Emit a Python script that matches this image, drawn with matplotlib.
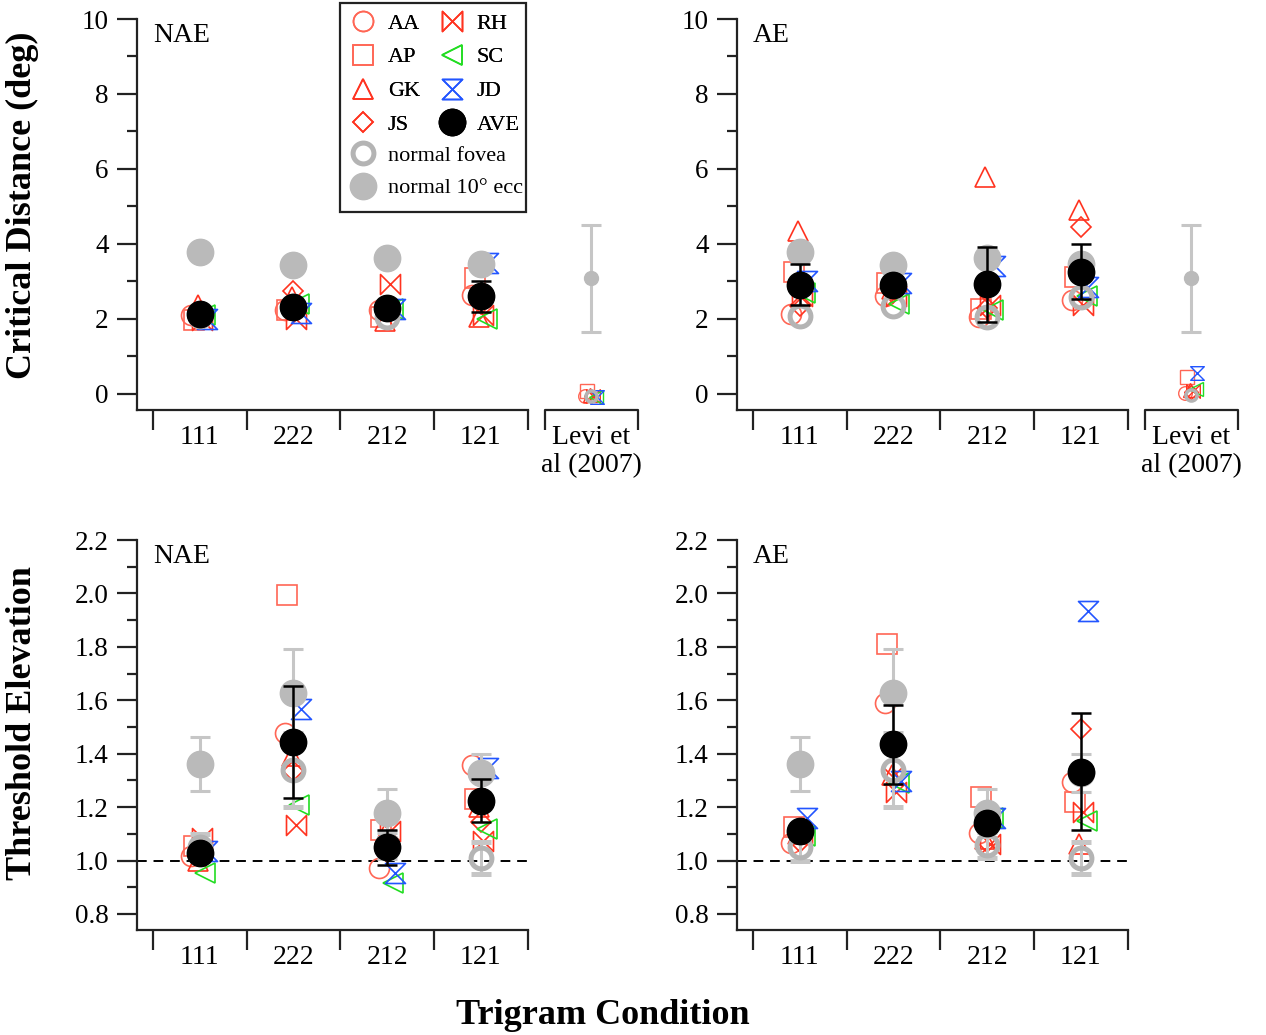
import numpy as np
import matplotlib
matplotlib.use("Agg")
import matplotlib.pyplot as plt
from matplotlib.path import Path
from matplotlib.lines import Line2D
from matplotlib.patches import Rectangle
from matplotlib.ticker import MultipleLocator, FormatStrFormatter

plt.rcParams['font.family'] = ['Liberation Serif', 'DejaVu Serif']

conditions = ['111', '222', '212', '121']
levi_label = 'Levi et\nal (2007)'
subjects = ['AA', 'AP', 'GK', 'JS', 'RH', 'SC', 'JD']

# critical distance (deg), rows follow `subjects`
cd_nae = [[2.11, 2.24, 2.25, 2.64],
          [1.97, 2.24, 2.05, 3.09],
          [2.38, 2.58, 1.95, 2.05],
          [2.12, 2.75, 2.30, 2.40],
          [1.98, 2.00, 2.92, 2.10],
          [2.10, 2.41, 2.27, 2.00],
          [2.00, 2.15, 2.27, 3.48]]
cd_ae = [[2.13, 2.60, 2.06, 2.51],
         [3.24, 2.95, 2.27, 3.11],
         [4.34, 2.80, 5.79, 4.90],
         [2.35, 2.70, 2.30, 4.45],
         [2.60, 2.60, 2.36, 2.37],
         [2.70, 2.40, 2.24, 2.60],
         [3.01, 2.95, 3.40, 2.85]]
cd_ave_nae = [2.13, 2.33, 2.28, 2.60]
cd_ave_nae_err = [0.12, 0.15, 0.15, 0.42]
cd_ave_ae = [2.91, 2.91, 2.92, 3.26]
cd_ave_ae_err = [0.55, 0.20, 0.99, 0.74]
cd_fovea = [2.09, 2.35, 2.06, 2.58]
cd_ecc = [3.79, 3.43, 3.62, 3.47]

# Levi et al (2007) column
levi_nae = [-0.05, 0.07, -0.04, -0.05, -0.05, -0.08, -0.07]
levi_ae = [0.02, 0.45, 0.10, 0.05, 0.08, 0.12, 0.57]
levi_fovea_nae = -0.05
levi_fovea_ae = -0.04
levi_ecc = 3.08
levi_ecc_err = 1.43

# threshold elevation
te_nae = [[1.017, 1.476, 0.971, 1.358],
          [1.054, 1.994, 1.114, 1.229],
          [1.000, 1.390, 1.100, 1.200],
          [1.030, 1.336, 1.050, 1.145],
          [1.083, 1.132, 1.110, 1.074],
          [0.952, 1.208, 0.915, 1.117],
          [1.034, 1.567, 0.955, 1.348]]
te_ae = [[1.064, 1.591, 1.104, 1.294],
         [1.124, 1.809, 1.239, 1.218],
         [1.100, 1.320, 1.080, 1.062],
         [1.070, 1.350, 1.070, 1.492],
         [1.100, 1.255, 1.062, 1.181],
         [1.092, 1.289, 1.158, 1.149],
         [1.159, 1.299, 1.158, 1.935]]
te_ave_nae = [1.027, 1.445, 1.049, 1.224]
te_ave_nae_err = [0.03, 0.21, 0.066, 0.08]
te_ave_ae = [1.112, 1.435, 1.139, 1.333]
te_ave_ae_err = [0.03, 0.147, 0.03, 0.22]
te_fovea = [1.050, 1.339, 1.058, 1.011]
te_fovea_err = [0.05, 0.14, 0.05, 0.06]
te_ecc = [1.361, 1.628, 1.177, 1.327]
te_ecc_err = [0.10, 0.164, 0.09, 0.07]

# marker styles
bowtie = Path([(-1, 1), (1, -1), (1, 1), (-1, -1), (-1, 1)], closed=True)
hourglass = Path([(-1, 1), (1, 1), (-1, -1), (1, -1), (-1, 1)], closed=True)
red = '#ff3320'
light_red = '#ff6655'
styles = {
    'AA': ('o', light_red, 14.4),
    'AP': ('s', light_red, 14.0),
    'GK': ('^', red, 14.4),
    'JS': ('D', red, 10.2),
    'RH': (bowtie, red, 14.4),
    'SC': ('<', '#22dd22', 14.4),
    'JD': (hourglass, '#2255ff', 14.4),
}
offsets = [-0.09, -0.065, -0.02, 0.0, 0.025, 0.06, 0.08]
ecc_color = '#bababa'
fov_color = '#b4b4b4'
err_grey = '#c6c6c6'


def draw_panel(ax, indiv, ave, ave_err, fov, fov_err, ecc, ecc_err, label,
               ylim, major, minor, levi=None, levi_fov=None):
    x = np.arange(1, 5)
    for i, s in enumerate(subjects):
        m, c, ms = styles[s]
        ax.plot(x + offsets[i], indiv[i], ls='none', marker=m, ms=ms,
                mfc='none', mec=c, mew=1.2, zorder=3, clip_on=False)
    ax.errorbar(x, ecc, yerr=ecc_err, fmt='o', ms=19, mfc=ecc_color,
                mec=ecc_color, ecolor=err_grey, elinewidth=2.2, capsize=7.5,
                capthick=2.2, zorder=4)
    ax.errorbar(x, fov, yerr=fov_err, fmt='o', ms=15, mfc='none',
                mec=fov_color, mew=3.6, ecolor=err_grey, elinewidth=2.2,
                capsize=7.5, capthick=2.2, zorder=4)
    ax.errorbar(x, ave, yerr=ave_err, fmt='o', ms=19, color='black',
                elinewidth=1.8, capsize=7.5, capthick=1.8, zorder=5)

    ticks = list(conditions)
    centers = [1, 2, 3, 4]
    if levi is not None:
        lx = 5.18
        for i, s in enumerate(subjects):
            m, c, ms = styles[s]
            ax.plot(lx + offsets[i] * 0.8, levi[i], ls='none', marker=m,
                    ms=ms * 0.68, mfc='none', mec=c, mew=1.0, zorder=3,
                    clip_on=False)
        ax.plot(lx, levi_fov, ls='none', marker='o', ms=8, mfc='none',
                mec=fov_color, mew=2.5, zorder=4, clip_on=False)
        ax.errorbar(lx, levi_ecc, yerr=levi_ecc_err, fmt='o', ms=10,
                    mfc=ecc_color, mec=ecc_color, ecolor=err_grey,
                    elinewidth=2.2, capsize=7.5, capthick=2.2, zorder=4)
        tr = ax.get_xaxis_transform()
        drop = 20 / (ax.get_position().height * fig.get_size_inches()[1] * fig.dpi)
        ax.plot([lx - 0.5, lx - 0.5, lx + 0.5, lx + 0.5],
                [-drop, 0, 0, -drop], color='#222222', lw=1.6,
                transform=tr, clip_on=False, solid_capstyle='butt')
        ticks.append(levi_label)
        centers.append(lx)
    else:
        ax.hlines(1.0, 0.33, 4.5, colors='black', linestyles=(0, (5, 3.5)),
                  lw=1.4, zorder=1)

    ax.set_xlim(0.33, 5.7)
    ax.set_ylim(*ylim)
    for sp in ['top', 'right']:
        ax.spines[sp].set_visible(False)
    for sp in ['left', 'bottom']:
        ax.spines[sp].set_linewidth(1.6)
        ax.spines[sp].set_color('#222222')
    ax.spines['bottom'].set_bounds(0.33, 4.5)
    ax.set_xticks([0.5, 1.5, 2.5, 3.5, 4.5])
    ax.set_xticklabels([])
    ax.set_xticks(centers, ticks, minor=True)
    ax.tick_params(axis='x', which='major', direction='out', length=14.4,
                   width=1.6, color='#222222')
    ax.tick_params(axis='x', which='minor', length=0, pad=11, labelsize=20)
    for t in ax.get_xminorticklabels():
        t.set_linespacing(1.12)
    ax.yaxis.set_major_locator(MultipleLocator(major))
    ax.yaxis.set_minor_locator(MultipleLocator(minor))
    ax.tick_params(axis='y', which='major', direction='out', length=14.4,
                   width=1.6, pad=6, labelsize=19.5, color='#222222')
    ax.tick_params(axis='y', which='minor', direction='out', length=7.5,
                   width=1.6, color='#222222')
    ax.text(0.032, 0.958, label, transform=ax.transAxes, va='center',
            ha='left', fontsize=20)


fig = plt.figure(figsize=(12.66, 10.35), dpi=100)
ax_tl = fig.add_axes([0.10822, 0.60377, 0.39747, 0.37787])
ax_tr = fig.add_axes([0.58215, 0.60377, 0.39747, 0.37787])
ax_bl = fig.add_axes([0.10822, 0.10145, 0.39747, 0.37681])
ax_br = fig.add_axes([0.58215, 0.10145, 0.39747, 0.37681])

draw_panel(ax_tl, cd_nae, cd_ave_nae, cd_ave_nae_err, cd_fovea, None,
           cd_ecc, None, 'NAE', (-0.43, 10), 2, 1, levi_nae, levi_fovea_nae)
draw_panel(ax_tr, cd_ae, cd_ave_ae, cd_ave_ae_err, cd_fovea, None,
           cd_ecc, None, 'AE', (-0.43, 10), 2, 1, levi_ae, levi_fovea_ae)
draw_panel(ax_bl, te_nae, te_ave_nae, te_ave_nae_err, te_fovea, te_fovea_err,
           te_ecc, te_ecc_err, 'NAE', (0.74, 2.2), 0.2, 0.1)
draw_panel(ax_br, te_ae, te_ave_ae, te_ave_ae_err, te_fovea, te_fovea_err,
           te_ecc, te_ecc_err, 'AE', (0.74, 2.2), 0.2, 0.1)
for ax in [ax_bl, ax_br]:
    ax.yaxis.set_major_formatter(FormatStrFormatter('%.1f'))

fig.text(0.0174, 0.802, 'Critical Distance (deg)', rotation=90, ha='center',
         va='center', fontsize=26, fontweight='bold')
fig.text(0.0174, 0.301, 'Threshold Elevation', rotation=90, ha='center',
         va='center', fontsize=26, fontweight='bold')
fig.text(0.4763, 0.0190, 'Trigram Condition', ha='center', va='center',
         fontsize=26, fontweight='bold')


# legend
def handle(s):
    m, c, ms = styles[s]
    return Line2D([], [], ls='none', marker=m, ms=ms, mfc='none', mec=c, mew=1.2)


h_ave = Line2D([], [], ls='none', marker='o', ms=19, color='black')
h_fov = Line2D([], [], ls='none', marker='o', ms=15, mfc='none', mec=fov_color, mew=3.6)
h_ecc = Line2D([], [], ls='none', marker='o', ms=19, mfc=ecc_color, mec=ecc_color)

leg1_handles = [handle('AA'), handle('AP'), handle('GK'), handle('JS'),
                handle('RH'), handle('SC'), handle('JD'), h_ave]
leg1_labels = ['AA', 'AP', 'GK', 'JS', 'RH', 'SC', 'JD', 'AVE']
leg1 = fig.legend(leg1_handles, leg1_labels, ncol=2, loc='upper left',
                  bbox_to_anchor=(349 / 1266, 1 - 13 / 1035),
                  bbox_transform=fig.transFigure, frameon=False,
                  borderaxespad=0, borderpad=0, fontsize=16,
                  handlelength=1.25, handletextpad=0.5, columnspacing=0.8,
                  labelspacing=0.6)
leg2 = fig.legend([h_fov, h_ecc], ['normal fovea', 'normal 10\u00b0 ecc'],
                  loc='upper left', bbox_to_anchor=(349 / 1266, 1 - 145 / 1035),
                  bbox_transform=fig.transFigure, frameon=False,
                  borderaxespad=0, borderpad=0, fontsize=16,
                  handlelength=1.25, handletextpad=0.5, labelspacing=0.55)
fig.add_artist(leg1)
fig.patches.append(Rectangle((0.26856, 0.79517), 0.14692, 0.20193,
                             transform=fig.transFigure, fill=False,
                             lw=1.6, ec='#222222'))

fig.savefig('out.png', dpi=100)
